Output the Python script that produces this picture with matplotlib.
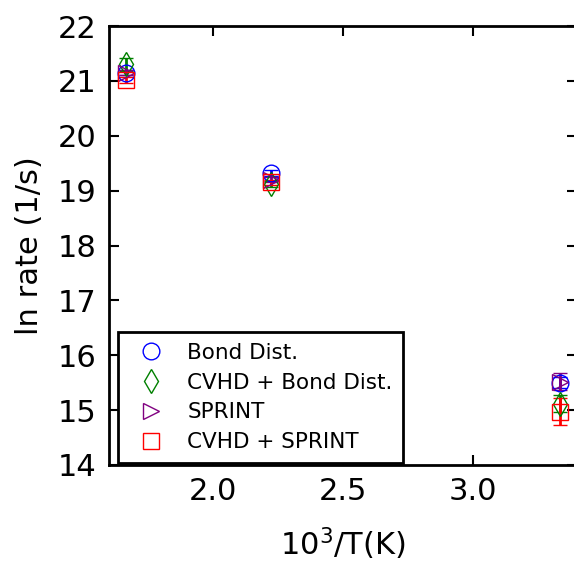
import matplotlib
matplotlib.use("Agg")
import matplotlib.pyplot as plt
from matplotlib.lines import Line2D

# 10^3/T for T = 600, 450, 300 K
inv_temp = [1000 / 600, 1000 / 450, 1000 / 300]

labels = ["Bond Dist.", "CVHD + Bond Dist.", "SPRINT", "CVHD + SPRINT"]
ln_rate_bond = [21.15, 19.32, 15.50]
ln_rate_cvhd_bond = [21.30, 19.12, 15.12]
ln_rate_sprint = [21.15, 19.20, 15.52]
ln_rate_cvhd_sprint = [21.02, 19.15, 14.97]

err_bond = [0.05, 0.05, 0.10]
err_cvhd_bond = [0.12, 0.06, 0.15]
err_sprint = [0.05, 0.05, 0.15]
err_cvhd_sprint = [0.05, 0.05, 0.25]

series = [
    (ln_rate_bond, err_bond, "o", "blue"),
    (ln_rate_cvhd_bond, err_cvhd_bond, "d", "green"),
    (ln_rate_sprint, err_sprint, ">", "purple"),
    (ln_rate_cvhd_sprint, err_cvhd_sprint, "s", "red"),
]

fig = plt.figure(figsize=(5.74, 5.65), dpi=100)
ax = fig.add_axes([109 / 574, 100 / 565, 468 / 574, 439 / 565])

handles = []
for (vals, errs, mk, col), lab in zip(series, labels):
    ax.errorbar(inv_temp, vals, yerr=errs, fmt=mk, linestyle="none",
                markersize=12, markerfacecolor="none", markeredgecolor=col,
                markeredgewidth=1, ecolor=col, elinewidth=2, capsize=5,
                capthick=2)
    handles.append(Line2D([], [], marker=mk, linestyle="none", markersize=12,
                          markerfacecolor="none", markeredgecolor=col,
                          markeredgewidth=1, label=lab))

ax.set_xlim(1.6, 3.4)
ax.set_ylim(14, 22)
ax.set_xticks([2.0, 2.5, 3.0])
ax.set_yticks(range(14, 23))
ax.tick_params(direction="in", length=7, width=1.5, top=True, right=True,
               labelsize=22, pad=9)
for sp in ax.spines.values():
    sp.set_linewidth(2)

ax.set_xlabel("$10^3$/T(K)", fontsize=22, labelpad=14)
ax.set_ylabel("ln rate (1/s)", fontsize=22, labelpad=10)

leg = ax.legend(handles=handles, loc="lower left", bbox_to_anchor=(0.02, 0.005),
                borderaxespad=0, numpoints=1, fontsize=15.5, fancybox=False,
                framealpha=1, edgecolor="black", labelspacing=0.45,
                handletextpad=0.7, borderpad=0.5)
leg.get_frame().set_linewidth(2)

fig.savefig("out.png", dpi=100)
